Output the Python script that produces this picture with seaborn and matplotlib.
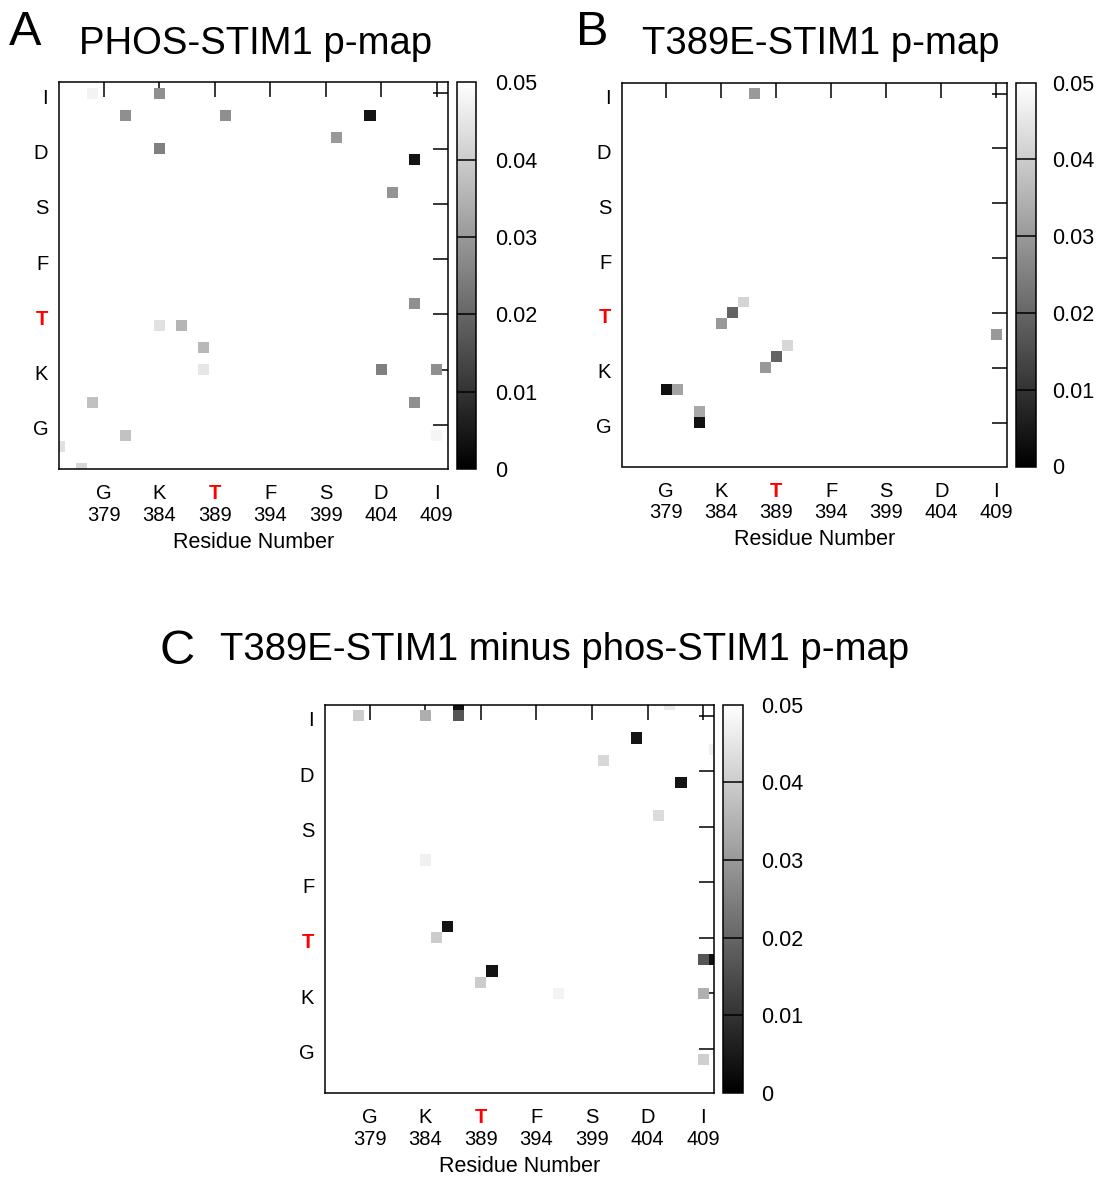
# p-map heatmaps for STIM1 residues 375-410
import numpy as np
import pandas as pd
import matplotlib
matplotlib.use('Agg')
import matplotlib.pyplot as plt
import matplotlib.transforms as mtransforms
import seaborn as sns

# residue grid and tick labels
residues = list(range(375, 411))
tick_res = [379, 384, 389, 394, 399, 404, 409]
tick_aa = ['G', 'K', 'T', 'F', 'S', 'D', 'I']
cb_ticks = [0, 0.01, 0.02, 0.03, 0.04, 0.05]
cb_labels = ['0', '0.01', '0.02', '0.03', '0.04', '0.05']

# A: PHOS-STIM1 p-map (residue x, residue y, p value)
a_x = [378, 384, 381, 390, 403, 400, 384, 407, 405, 407, 384, 386, 388, 388, 404, 409, 378, 407, 381, 409, 375, 377]
a_y = [409, 409, 407, 407, 407, 405, 404, 403, 400, 390, 388, 388, 386, 384, 384, 384, 381, 381, 378, 378, 377, 375]
a_p = [0.0475, 0.028, 0.028, 0.028, 0.004, 0.030, 0.025, 0.004, 0.029, 0.028, 0.044, 0.0355,
       0.036, 0.045, 0.025, 0.028, 0.0377, 0.028, 0.038, 0.048, 0.044, 0.042]

# B: T389E-STIM1 p-map
b_x = [387, 386, 385, 384, 390, 389, 388, 409, 379, 380, 382, 382]
b_y = [409, 390, 389, 388, 386, 385, 384, 387, 382, 382, 380, 379]
b_p = [0.030, 0.0415, 0.0195, 0.030, 0.042, 0.0195, 0.030, 0.030, 0.0033, 0.032, 0.033, 0.0035]

# C: T389E-STIM1 minus phos-STIM1 p-map
c_x = [378, 384, 387, 387, 406, 403, 400, 410, 407, 405, 384, 386, 385, 390, 389, 396, 409, 410, 409, 409]
c_y = [409, 409, 409, 410, 410, 407, 405, 406, 403, 400, 396, 390, 389, 386, 385, 384, 387, 387, 384, 378]
c_p = [0.040, 0.034, 0.0167, 0.0033, 0.046, 0.004, 0.042, 0.047, 0.004, 0.043, 0.047, 0.004,
       0.040, 0.004, 0.040, 0.0475, 0.0167, 0.0033, 0.0345, 0.0405]

W, H = 1101, 1178


def box(l, t, r, b):
    # pixel box -> figure fraction rect
    return [l / W, 1 - b / H, (r - l) / W, (b - t) / H]


def draw_map(ax, cax, xs, ys, ps, cb_pad):
    df = pd.DataFrame({'x': xs, 'y': ys, 'p': ps})
    grid = df.pivot_table(index='y', columns='x', values='p')
    grid = grid.reindex(index=residues[::-1], columns=residues)
    sns.heatmap(grid, ax=ax, cbar_ax=cax, cmap='gray', vmin=0, vmax=0.05,
                xticklabels=False, yticklabels=False)
    cols = list(grid.columns)
    rows = list(grid.index)
    xpos = [cols.index(r) + 0.5 for r in tick_res]
    ypos = [rows.index(r) + 0.5 for r in tick_res]
    ax.set_xlim(cols.index(375) + 0.5, cols.index(410) + 0.5)
    ax.set_ylim(rows.index(375) + 0.5, rows.index(410) + 0.5)
    ax.set_xlabel('')
    ax.set_ylabel('')

    for s in ax.spines.values():
        s.set_visible(True)
        s.set_linewidth(1.1)
        s.set_color('black')

    ax.set_xticks(xpos)
    ax.set_xticklabels(tick_aa, rotation=0)
    ax.set_yticks(ypos)
    ax.set_yticklabels(tick_aa, rotation=0)
    ax.tick_params(axis='both', direction='in', length=11, width=1.1,
                   top=True, right=True, labelsize=14.5, color='black',
                   labelcolor='black')
    ax.tick_params(axis='x', pad=11)
    ax.tick_params(axis='y', pad=8)
    shift = mtransforms.ScaledTranslation(0, -3 / 100, fig.dpi_scale_trans)
    for lab in ax.get_yticklabels():
        lab.set_transform(lab.get_transform() + shift)
    for lab in ax.get_xticklabels() + ax.get_yticklabels():
        if lab.get_text() == 'T':
            lab.set_color('red')
            lab.set_fontweight('bold')

    # residue numbers as a second row under the letters
    sec = ax.secondary_xaxis('bottom')
    sec.set_xticks(xpos, labels=[str(r) for r in tick_res])
    sec.tick_params(length=0, pad=26.5, labelsize=14.5, labelcolor='black')
    sec.spines['bottom'].set_visible(False)
    sec.set_xlabel('Residue Number', fontsize=15.5, labelpad=5, color='black')

    cb = ax.collections[0].colorbar
    cb.set_ticks(cb_ticks, labels=cb_labels)
    cb.ax.tick_params(length=0, pad=cb_pad, labelsize=15.5, labelcolor='black')
    cb.outline.set_visible(True)
    cb.outline.set_linewidth(1.1)
    cb.outline.set_edgecolor('black')
    for v in cb_ticks[1:-1]:
        cb.ax.axhline(v, color='black', lw=1.1)


sns.set_style('white')
plt.rcParams['font.family'] = ['Liberation Sans', 'DejaVu Sans']
plt.rcParams['text.color'] = 'black'
plt.rcParams['axes.labelcolor'] = 'black'

fig = plt.figure(figsize=(W / 100, H / 100), dpi=100)

ax_a = fig.add_axes(box(59.3, 82.3, 447.7, 469))
cax_a = fig.add_axes(box(457.3, 82.3, 476, 469))
draw_map(ax_a, cax_a, a_x, a_y, a_p, cb_pad=13.5)

ax_b = fig.add_axes(box(622.3, 82.7, 1007.3, 466.5))
cax_b = fig.add_axes(box(1015.7, 82.7, 1035.7, 466.5))
draw_map(ax_b, cax_b, b_x, b_y, b_p, cb_pad=12)

ax_c = fig.add_axes(box(325.3, 704.7, 714.3, 1093))
cax_c = fig.add_axes(box(723.3, 704.7, 743.3, 1093))
draw_map(ax_c, cax_c, c_x, c_y, c_p, cb_pad=13)

# panel letters and titles
fig.text(9 / W, 1 - 45 / H, 'A', fontsize=35, va='baseline')
fig.text(79 / W, 1 - 54 / H, 'PHOS-STIM1 p-map', fontsize=27.5, va='baseline')
fig.text(576 / W, 1 - 45 / H, 'B', fontsize=35, va='baseline')
fig.text(642 / W, 1 - 54 / H, 'T389E-STIM1 p-map', fontsize=27.5, va='baseline')
fig.text(160 / W, 1 - 664 / H, 'C', fontsize=35, va='baseline')
fig.text(220 / W, 1 - 660 / H, 'T389E-STIM1 minus phos-STIM1 p-map', fontsize=27.5, va='baseline')

fig.savefig('out.png', dpi=100)
